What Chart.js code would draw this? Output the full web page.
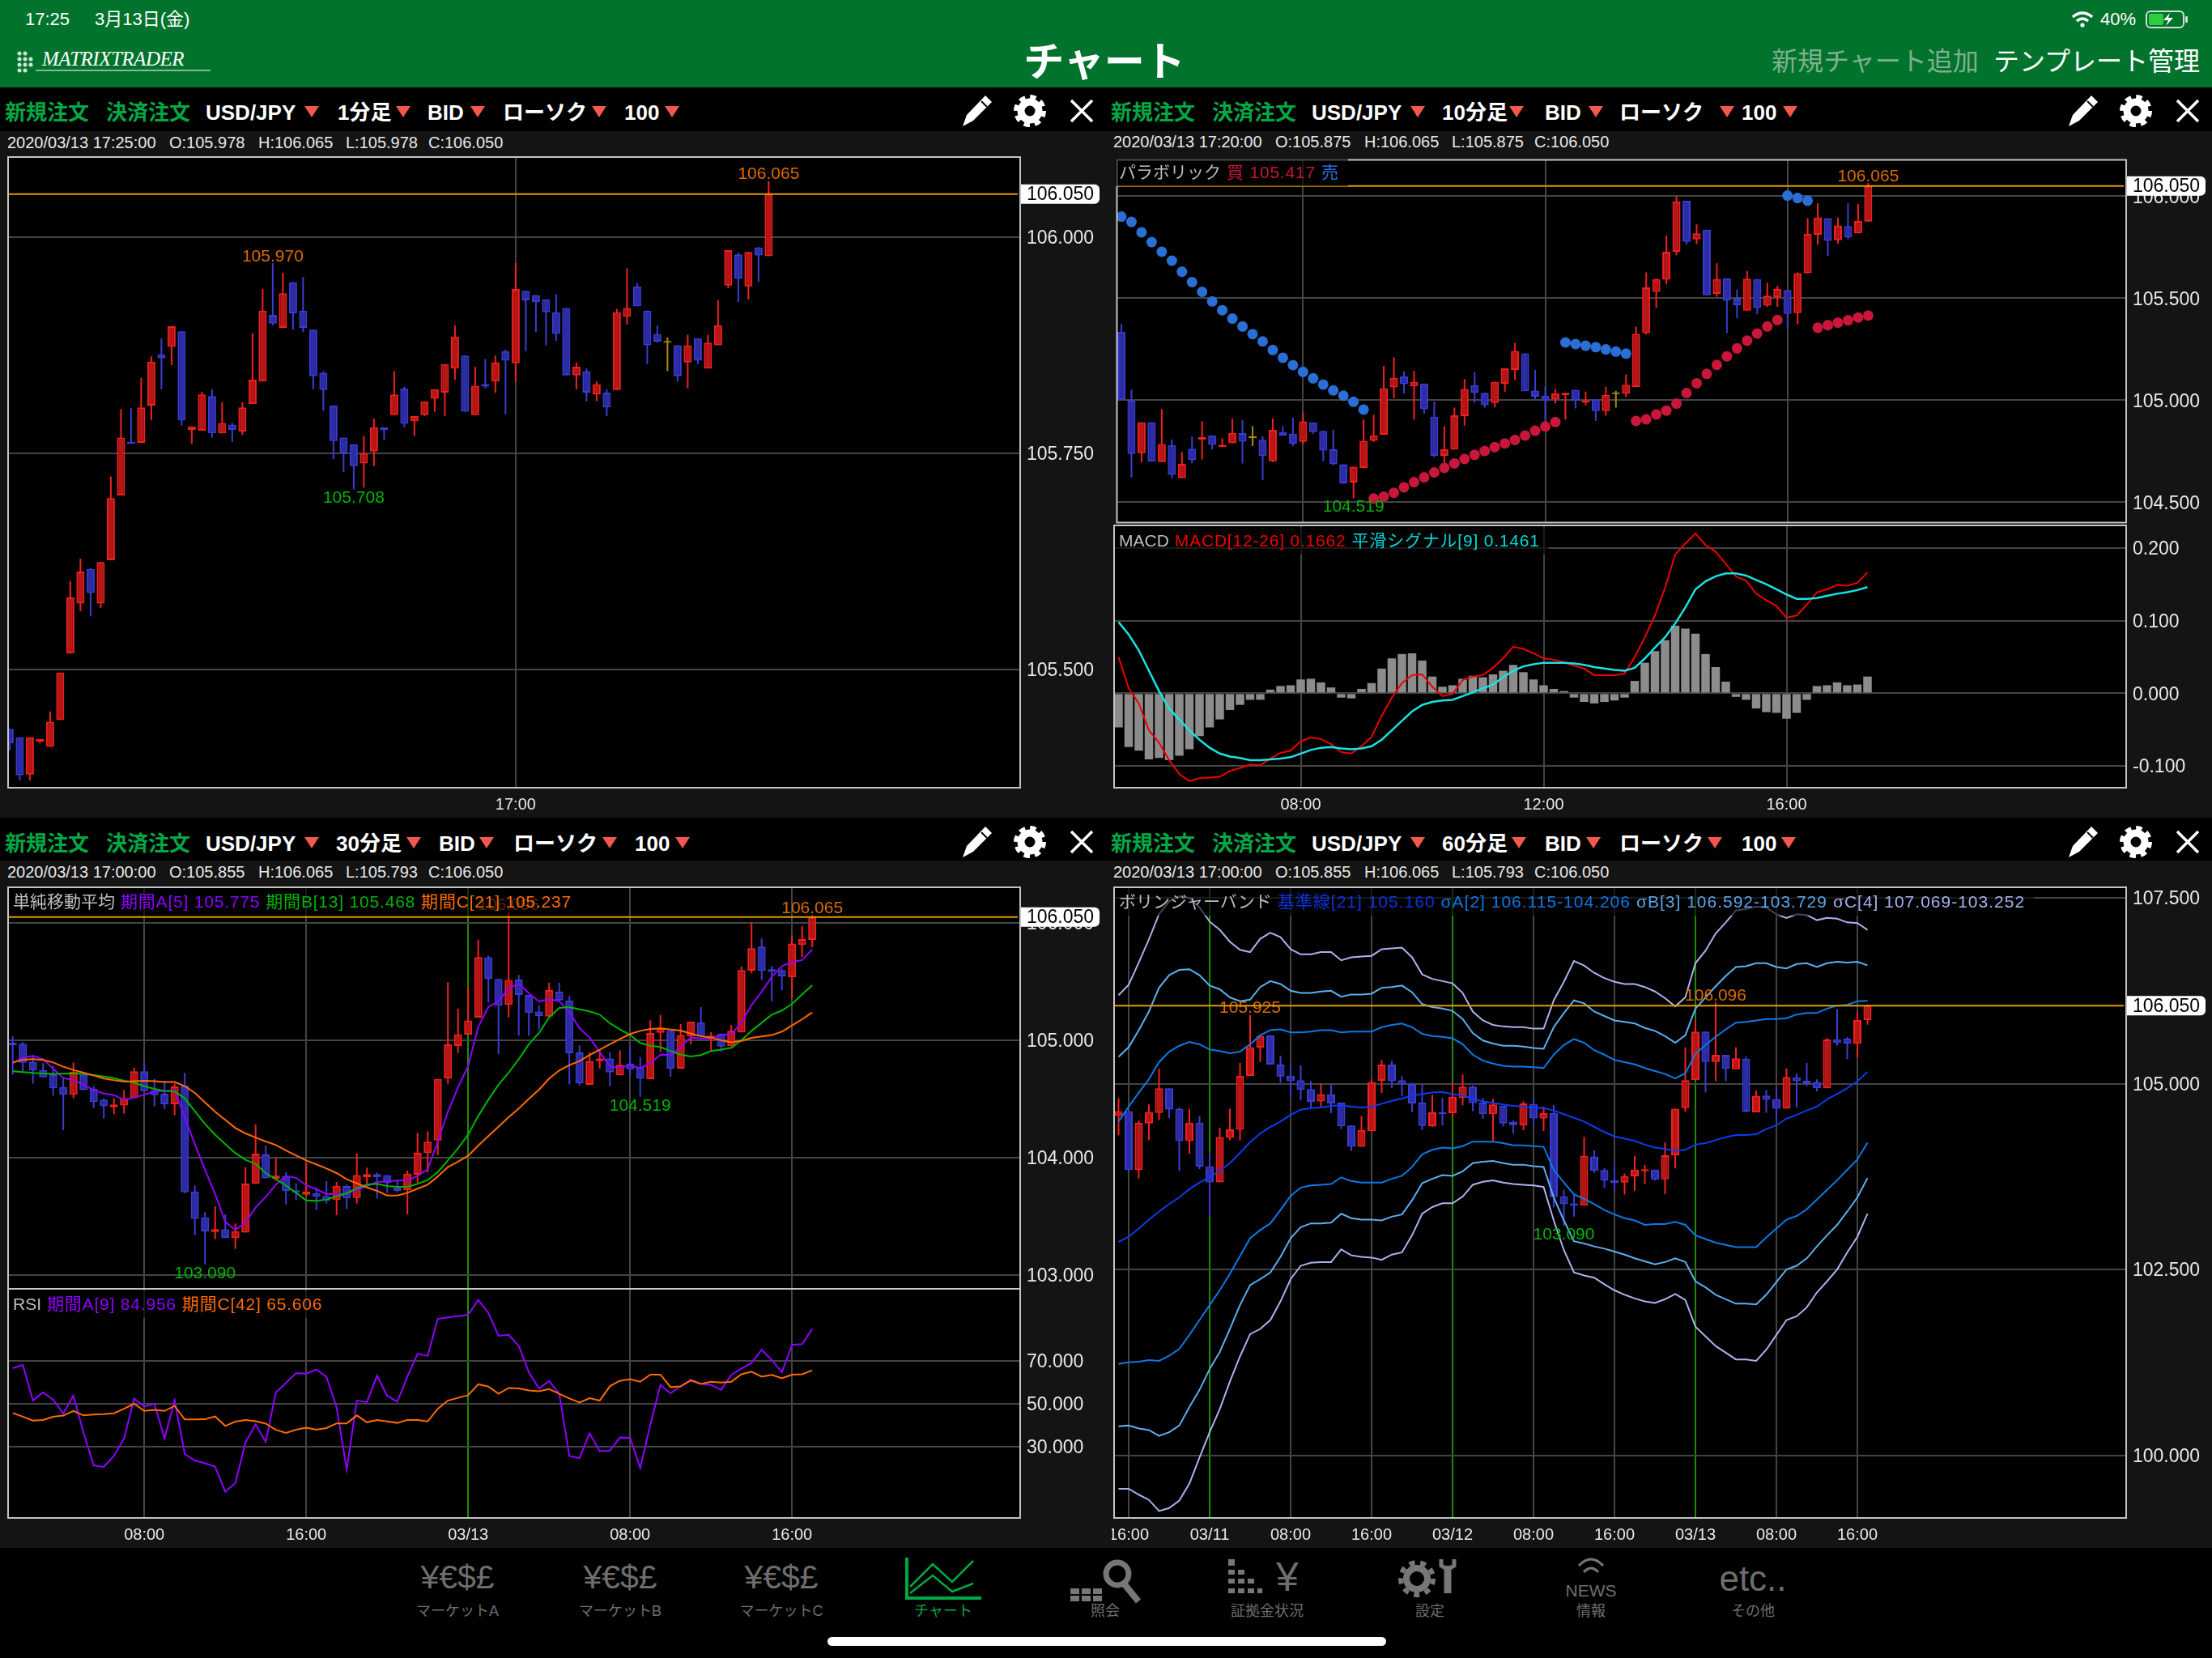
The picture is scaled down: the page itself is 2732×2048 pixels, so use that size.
<!DOCTYPE html>
<html lang="ja">
<head>
<meta charset="utf-8">
<title>チャート</title>
<script src="https://cdn.jsdelivr.net/npm/chart.js@4"></script>
<style>
  html, body { margin: 0; padding: 0; background: #141414; }
  body { position: relative; width: 2732px; height: 2048px; overflow: hidden;
         font-family: 'Liberation Sans', 'Noto Sans CJK JP', sans-serif; color: #fff; }
  .band { position: absolute; left: 0; width: 2732px; }
  canvas { position: absolute; }
  .t { position: absolute; white-space: nowrap; transform: translateY(-50%); line-height: 1; }
  .c { transform: translate(-50%, -50%); }
  .tri { position: absolute; width: 0; height: 0; border-left: 9px solid transparent;
         border-right: 9px solid transparent; border-top: 14px solid #f2584e; transform: translateX(-50%); }
  .legend { position: absolute; height: 34px; line-height: 34px; white-space: nowrap; font-size: 21px;
            background: rgba(0, 0, 0, .62); padding: 0 4px 0 5px; z-index: 3; }
  .legend span { margin-right: 7px; }
  .legend span + span { letter-spacing: .8px; }
  .legend.wide span + span { letter-spacing: 1px; }
  svg.ic { position: absolute; overflow: visible; }
</style>
</head>
<body>
<div class="band" style="top:0;height:108px;background:#01732d"></div>
<div class="band" style="top:108px;height:54px;background:#000"></div>
<div class="band" style="top:1010px;height:53px;background:#000"></div>
<div class="band" style="top:1912px;height:136px;background:#000"></div>
<div style="position:absolute;left:1022px;top:2022px;width:690px;height:11px;border-radius:6px;background:#fff"></div>

<script>
// 1 minute candles
const m1Open  = [105.431,105.421,105.378,105.416,105.410,105.441,105.518,105.576,105.616,105.576,105.626,105.701,105.763,105.762,105.805,105.864,105.873,105.891,105.777,105.776,105.816,105.773,105.783,105.775,105.807,105.833,105.910,105.895,105.948,105.915,105.893,105.843,105.805,105.768,105.760,105.738,105.752,105.780,105.794,105.825,105.787,105.794,105.813,105.820,105.848,105.863,105.794,105.830,105.833,105.868,105.854,105.938,105.933,105.928,105.913,105.918,105.840,105.845,105.818,105.820,105.823,105.908,105.943,105.915,105.888,105.878,105.875,105.855,105.883,105.848,105.875,105.944,105.980,105.943,105.988,105.978];
const m1High  = [105.431,105.421,105.421,105.419,105.451,105.496,105.602,105.628,105.617,105.624,105.723,105.801,105.802,105.837,105.862,105.883,105.897,105.891,105.781,105.821,105.824,105.809,105.785,105.809,105.889,105.940,105.970,105.959,105.948,105.954,105.893,105.845,105.805,105.768,105.760,105.770,105.790,105.780,105.845,105.827,105.793,105.810,105.824,105.853,105.898,105.863,105.850,105.859,105.863,105.870,105.970,105.938,105.933,105.928,105.934,105.918,105.855,105.848,105.833,105.824,105.917,105.964,105.947,105.915,105.898,105.884,105.875,105.887,105.883,105.887,105.927,105.985,105.982,105.983,105.989,106.065];
const m1Low   = [105.406,105.371,105.371,105.414,105.410,105.441,105.518,105.567,105.561,105.571,105.626,105.701,105.761,105.762,105.788,105.824,105.852,105.782,105.761,105.776,105.768,105.773,105.763,105.771,105.807,105.833,105.898,105.895,105.893,105.890,105.824,105.799,105.743,105.728,105.708,105.710,105.735,105.765,105.794,105.780,105.770,105.793,105.798,105.793,105.835,105.798,105.794,105.825,105.820,105.795,105.833,105.868,105.890,105.875,105.880,105.840,105.824,105.810,105.810,105.793,105.823,105.899,105.920,105.853,105.878,105.845,105.833,105.825,105.853,105.848,105.875,105.941,105.925,105.928,105.948,105.978];
const m1Close = [105.414,105.377,105.421,105.419,105.439,105.496,105.583,105.613,105.588,105.624,105.698,105.768,105.761,105.803,105.856,105.860,105.897,105.788,105.781,105.818,105.773,105.785,105.777,105.803,105.835,105.915,105.900,105.935,105.912,105.895,105.839,105.823,105.764,105.750,105.735,105.750,105.780,105.777,105.818,105.784,105.793,105.810,105.824,105.853,105.885,105.798,105.828,105.827,105.855,105.857,105.940,105.927,105.925,105.913,105.888,105.840,105.850,105.820,105.830,105.803,105.913,105.918,105.920,105.875,105.879,105.878,105.839,105.875,105.857,105.878,105.898,105.985,105.952,105.983,105.979,106.050];
const m1Ticks = [106.000,105.750,105.500];
const m1TimeIdx = [50];
const m1TimeLabels = ['17:00'];

// 10 minute candles
const m10Open  = [105.336,104.999,104.740,104.892,104.697,104.780,104.618,104.762,104.807,104.828,104.771,104.789,104.839,104.815,104.806,104.701,104.844,104.836,104.796,104.891,104.849,104.759,104.686,104.596,104.668,104.801,104.831,105.063,105.116,105.068,105.082,104.919,104.727,104.758,104.922,105.074,105.036,104.986,105.081,105.148,105.229,105.047,105.021,105.003,105.025,105.051,104.988,105.004,104.947,105.030,105.031,105.065,105.329,105.531,105.591,105.728,105.978,105.788,105.836,105.521,105.598,105.497,105.439,105.594,105.464,105.504,105.540,105.427,105.622,105.811,105.892,105.784,105.854,105.818,105.875];
const m10High  = [105.374,105.052,104.892,104.892,104.957,104.807,104.745,104.822,104.897,104.828,104.814,104.910,104.902,104.872,104.824,104.911,104.872,104.914,104.941,104.891,104.849,104.853,104.686,104.674,104.906,104.928,105.168,105.211,105.142,105.143,105.082,104.993,104.872,104.964,105.103,105.137,105.036,105.090,105.156,105.281,105.229,105.148,105.068,105.056,105.036,105.051,105.042,105.004,105.066,105.046,105.126,105.361,105.626,105.598,105.807,106.001,105.978,105.862,105.836,105.671,105.598,105.542,105.633,105.594,105.576,105.560,105.540,105.626,105.892,105.966,105.892,105.895,105.966,105.962,106.065];
const m10Low   = [105.003,104.621,104.697,104.699,104.697,104.615,104.618,104.691,104.710,104.759,104.771,104.789,104.690,104.775,104.609,104.697,104.827,104.775,104.785,104.836,104.701,104.681,104.590,104.519,104.668,104.796,104.831,105.009,105.033,104.905,104.934,104.720,104.684,104.758,104.875,104.988,104.964,104.965,105.042,105.100,105.044,105.003,104.895,104.983,104.905,104.960,104.975,104.898,104.924,104.964,105.014,105.065,105.322,105.454,105.568,105.711,105.764,105.766,105.514,105.507,105.329,105.402,105.439,105.421,105.458,105.458,105.357,105.371,105.622,105.762,105.707,105.768,105.790,105.818,105.875];
const m10Close = [105.003,104.736,104.892,104.699,104.785,104.634,104.688,104.706,104.819,104.781,104.781,104.840,104.797,104.815,104.725,104.854,104.827,104.786,104.896,104.844,104.753,104.686,104.592,104.674,104.801,104.828,105.059,105.109,105.079,105.090,104.956,104.727,104.759,104.926,105.055,105.036,104.975,105.090,105.156,105.241,105.044,105.017,104.997,105.034,105.036,104.997,104.999,104.947,105.026,105.030,105.076,105.326,105.553,105.594,105.728,105.975,105.776,105.818,105.514,105.594,105.487,105.466,105.596,105.452,105.512,105.546,105.423,105.622,105.816,105.895,105.781,105.857,105.798,105.878,106.050];
const sarSell = [105.900,105.874,105.823,105.775,105.728,105.684,105.630,105.579,105.531,105.484,105.441,105.400,105.361,105.324,105.288,105.246,105.208,105.172,105.139,105.107,105.077,105.048,105.022,104.992,104.954,null,null,null,null,null,null,null,null,null,null,null,null,null,null,null,null,null,null,null,105.283,105.275,105.267,105.260,105.249,105.238,105.228,null,null,null,null,null,null,null,null,null,null,null,null,null,null,null,106.003,105.991,105.978,null,null,null,null,null,null];
const sarBuy  = [null,null,null,null,null,null,null,null,null,null,null,null,null,null,null,null,null,null,null,null,null,null,null,null,null,104.518,104.527,104.546,104.573,104.598,104.622,104.646,104.668,104.690,104.712,104.732,104.751,104.770,104.788,104.805,104.827,104.850,104.871,104.893,null,null,null,null,null,null,null,104.898,104.906,104.930,104.949,104.983,105.035,105.083,105.129,105.173,105.215,105.254,105.292,105.327,105.361,105.393,null,null,null,105.355,105.368,105.380,105.392,105.405,105.415];
const macdLine = [0.050,0.007,-0.014,-0.051,-0.068,-0.092,-0.111,-0.121,-0.117,-0.116,-0.115,-0.107,-0.103,-0.098,-0.099,-0.090,-0.082,-0.079,-0.066,-0.061,-0.063,-0.070,-0.081,-0.083,-0.073,-0.060,-0.031,-0.006,0.014,0.025,0.026,0.009,-0.004,-0.001,0.018,0.023,0.025,0.035,0.048,0.064,0.061,0.055,0.048,0.046,0.043,0.038,0.034,0.025,0.025,0.025,0.027,0.050,0.077,0.107,0.145,0.191,0.206,0.220,0.204,0.195,0.178,0.161,0.155,0.137,0.128,0.120,0.104,0.107,0.122,0.139,0.143,0.149,0.148,0.152,0.1662];
const macdSignal = [0.098,0.081,0.059,0.031,0.003,-0.021,-0.036,-0.051,-0.064,-0.075,-0.083,-0.087,-0.089,-0.092,-0.092,-0.091,-0.090,-0.088,-0.083,-0.078,-0.075,-0.074,-0.076,-0.077,-0.076,-0.073,-0.064,-0.051,-0.038,-0.025,-0.016,-0.012,-0.010,-0.009,-0.004,0.001,0.007,0.012,0.022,0.031,0.037,0.040,0.042,0.042,0.042,0.041,0.039,0.036,0.034,0.032,0.031,0.035,0.048,0.063,0.077,0.096,0.118,0.143,0.154,0.161,0.165,0.165,0.162,0.156,0.150,0.143,0.136,0.130,0.130,0.131,0.134,0.137,0.139,0.142,0.1461];
const macdHist = [-0.047,-0.074,-0.079,-0.091,-0.089,-0.092,-0.086,-0.077,-0.059,-0.047,-0.036,-0.023,-0.016,-0.009,-0.009,0.005,0.010,0.011,0.019,0.020,0.015,0.008,-0.006,-0.007,0.006,0.014,0.034,0.048,0.054,0.055,0.045,0.023,0.009,0.011,0.020,0.024,0.022,0.026,0.031,0.039,0.029,0.019,0.011,0.006,0.003,-0.006,-0.012,-0.014,-0.012,-0.010,-0.006,0.017,0.042,0.058,0.073,0.093,0.089,0.082,0.054,0.036,0.016,-0.005,-0.009,-0.021,-0.026,-0.027,-0.035,-0.027,-0.009,0.010,0.011,0.015,0.011,0.012,0.023];
const m10Ticks = [106.000,105.500,105.000,104.500];
const macdTicks = [0.200,0.100,0.000,-0.100];
const m10TimeIdx = [18,42,66];
const m10TimeLabels = ['08:00','12:00','16:00'];

// 30 minute candles
const m30Open  = [104.979,104.970,104.816,104.747,104.710,104.602,104.536,104.708,104.586,104.494,104.430,104.444,104.506,104.736,104.575,104.545,104.455,104.614,103.713,103.492,103.368,103.389,103.315,103.363,103.777,104.028,103.821,103.844,103.722,103.685,103.699,103.674,103.639,103.759,103.657,103.834,103.860,103.851,103.747,103.722,103.855,104.039,104.147,104.674,104.952,105.048,105.193,105.706,105.522,105.301,105.517,105.386,105.244,105.202,105.416,105.340,104.897,104.621,104.823,104.844,104.701,104.802,104.770,104.669,105.064,105.080,104.759,105.032,105.154,105.016,105.057,104.949,105.067,105.593,105.798,105.605,105.598,105.538,105.811,105.855];
const m30High  = [105.034,104.984,104.874,104.805,104.782,104.678,104.811,104.708,104.609,104.506,104.506,104.575,104.766,104.805,104.671,104.655,104.632,104.722,103.763,103.536,103.586,103.517,103.439,103.920,104.283,104.103,103.993,103.876,103.782,103.954,103.747,103.802,103.793,103.770,104.037,103.915,103.874,103.851,103.816,103.890,104.211,104.225,104.671,105.494,105.269,105.453,105.857,105.722,105.522,106.096,105.556,105.386,105.297,105.490,105.490,105.375,104.956,104.897,104.920,104.901,104.915,104.943,104.855,105.170,105.214,105.080,105.138,105.159,105.283,105.069,105.057,105.131,105.628,106.005,105.867,105.632,105.609,105.894,105.972,106.065];
const m30Low   = [104.706,104.736,104.630,104.685,104.529,104.234,104.506,104.575,104.423,104.333,104.370,104.375,104.506,104.568,104.437,104.414,104.361,103.697,103.340,103.090,103.306,103.315,103.223,103.363,103.777,103.825,103.805,103.602,103.637,103.667,103.554,103.609,103.510,103.563,103.609,103.747,103.651,103.701,103.706,103.517,103.782,103.874,104.023,104.630,104.892,105.048,105.193,105.322,104.883,105.195,105.041,105.037,105.092,105.202,105.340,104.625,104.616,104.621,104.759,104.609,104.701,104.701,104.519,104.669,104.903,104.690,104.759,104.966,105.030,104.915,104.901,104.949,105.067,105.570,105.513,105.333,105.425,105.356,105.710,105.793];
const m30Close = [104.959,104.809,104.743,104.685,104.591,104.536,104.731,104.575,104.474,104.439,104.453,104.506,104.736,104.568,104.533,104.455,104.607,103.706,103.480,103.372,103.391,103.315,103.375,103.779,104.034,103.825,103.846,103.715,103.701,103.710,103.667,103.632,103.761,103.653,103.851,103.860,103.834,103.782,103.717,103.864,104.041,104.136,104.671,104.966,105.051,105.168,105.708,105.522,105.294,105.513,105.386,105.232,105.207,105.428,105.340,104.890,104.632,104.823,104.844,104.726,104.791,104.754,104.674,105.062,105.103,104.756,105.044,105.159,105.030,105.039,104.947,105.080,105.598,105.784,105.591,105.582,105.543,105.823,105.862,106.050];
const smaA = [104.805,104.851,104.867,104.839,104.759,104.678,104.660,104.621,104.575,104.547,104.533,104.494,104.513,104.536,104.563,104.568,104.575,104.345,104.115,103.897,103.690,103.453,103.384,103.448,103.575,103.667,103.770,103.844,103.828,103.766,103.731,103.690,103.690,103.694,103.724,103.759,103.793,103.798,103.805,103.809,103.844,103.901,104.138,104.391,104.598,104.782,105.115,105.283,105.333,105.441,105.483,105.402,105.329,105.352,105.333,105.241,105.103,105.023,104.897,104.777,104.766,104.786,104.763,104.805,104.878,104.874,104.943,105.023,105.016,105.016,105.046,105.051,105.149,105.299,105.414,105.540,105.632,105.667,105.683,105.775];
const smaB = [104.736,104.729,104.722,104.717,104.713,104.715,104.717,104.713,104.703,104.692,104.678,104.655,104.639,104.609,104.586,104.568,104.563,104.506,104.395,104.287,104.195,104.115,104.039,103.982,103.947,103.869,103.816,103.763,103.701,103.637,103.632,103.644,103.671,103.697,103.740,103.770,103.777,103.759,103.752,103.752,103.777,103.809,103.878,103.977,104.080,104.195,104.356,104.494,104.621,104.724,104.839,104.966,105.062,105.195,105.276,105.283,105.264,105.246,105.218,105.145,105.092,105.046,104.977,104.954,104.943,104.908,104.878,104.862,104.874,104.908,104.920,104.936,105.000,105.080,105.149,105.218,105.253,105.310,105.391,105.468];
const smaC = [104.811,104.834,104.839,104.832,104.811,104.775,104.747,104.724,104.701,104.674,104.660,104.648,104.651,104.655,104.651,104.644,104.644,104.609,104.552,104.471,104.391,104.322,104.253,104.207,104.172,104.138,104.108,104.062,104.018,103.977,103.943,103.908,103.869,103.816,103.782,103.747,103.717,103.678,103.678,103.701,103.736,103.770,103.839,103.920,103.966,104.016,104.103,104.184,104.264,104.345,104.418,104.501,104.579,104.674,104.743,104.789,104.823,104.874,104.920,104.966,105.011,105.053,105.080,105.097,105.101,105.092,105.083,105.057,105.034,105.023,105.000,104.982,104.995,105.021,105.032,105.044,105.074,105.126,105.179,105.237];
const rsiA = [66.6,68.1,51.5,55.3,51.9,45.5,53.8,36.4,21.3,20.6,25.7,33.9,52.5,48.7,50.0,33.9,51.5,26.6,23.6,22.3,20.7,9.0,13.1,32.0,40.4,32.3,55.3,59.7,64.3,64.1,66.0,62.6,48.4,19.4,51.5,50.8,63.1,53.8,50.9,62.8,73.3,72.3,89.6,90.3,90.9,91.5,98.4,92.4,81.7,82.2,77.0,64.7,57.2,60.6,54.7,25.7,24.7,36.2,27.9,28.1,34.3,34.2,20.1,40.2,58.8,54.9,58.2,61.3,59.3,58.8,56.5,63.5,66.4,69.1,75.2,70.4,64.7,77.5,77.8,84.956];
const rsiC = [45.7,44.0,42.2,42.5,44.0,44.5,46.7,44.6,45.0,45.2,45.6,47.7,50.0,46.7,47.2,46.7,49.0,42.7,42.7,42.8,44.1,39.7,41.7,42.5,41.9,40.8,37.9,36.4,37.9,38.9,37.9,38.7,40.9,40.9,44.6,41.4,42.5,41.8,41.1,42.5,42.5,41.8,47.7,51.5,52.8,54.0,59.1,58.1,54.7,57.4,57.2,56.2,55.9,56.9,54.7,52.5,50.6,52.6,51.5,58.2,60.8,61.4,60.3,63.6,63.6,57.8,58.1,60.9,59.3,60.3,59.9,60.3,63.8,65.0,62.7,63.5,61.9,63.6,63.8,65.606];
const m30Ticks = [106.000,105.000,104.000,103.000];
const rsiTicks = [70,50,30];
const m30TimeIdx = [13,29,45,61,77];
const m30TimeLabels = ['08:00','16:00','03/13','08:00','16:00'];
const m30DateIdx = [45];

// 60 minute candles
const h1Open  = [104.567,104.630,103.838,104.465,104.607,104.937,104.664,104.226,104.476,103.889,103.673,104.271,104.380,105.103,105.484,105.650,105.257,105.108,105.046,104.926,104.761,104.858,104.744,104.437,104.152,104.362,105.040,105.257,105.046,104.995,104.744,104.425,104.613,104.602,104.807,104.960,104.744,104.590,104.704,104.482,104.437,104.727,104.533,104.607,103.485,103.389,103.360,104.021,103.838,103.702,103.668,103.753,103.821,103.844,103.713,104.038,104.670,105.046,105.701,105.291,105.388,105.194,105.336,104.613,104.841,104.795,104.664,105.086,105.040,105.023,104.937,105.598,105.604,105.536,105.855];
const h1High  = [104.806,104.630,104.505,104.721,105.205,104.937,104.681,104.659,104.567,104.066,104.408,104.664,105.279,105.925,105.644,105.650,105.376,105.234,105.245,105.034,105.006,104.995,104.744,104.437,104.567,105.063,105.319,105.308,105.103,105.012,104.989,104.852,104.807,105.023,105.126,104.977,104.807,104.795,104.704,104.505,104.761,104.795,104.693,104.716,103.571,103.497,104.283,104.101,103.867,103.941,103.793,104.032,103.907,103.844,104.209,104.664,105.490,105.860,105.701,106.096,105.388,105.490,105.365,104.909,104.915,104.932,105.205,105.137,105.279,105.057,105.615,106.003,105.627,105.968,106.065];
const h1Low   = [104.305,103.827,103.725,104.237,104.511,104.539,103.827,104.055,103.850,103.212,103.673,104.237,104.237,105.103,105.291,105.257,105.012,104.807,104.778,104.670,104.693,104.602,104.391,104.095,104.152,104.362,104.875,104.937,104.835,104.619,104.374,104.419,104.437,104.550,104.710,104.630,104.528,104.232,104.425,104.328,104.374,104.431,104.362,103.337,103.090,103.212,103.360,103.799,103.599,103.554,103.508,103.559,103.651,103.696,103.514,103.861,104.624,105.046,104.881,105.034,105.034,105.194,104.613,104.613,104.607,104.494,104.664,104.681,104.966,104.898,104.937,105.513,105.331,105.353,105.793];
const h1Close = [104.630,103.838,104.476,104.619,104.937,104.653,104.226,104.476,103.884,103.673,104.283,104.385,105.103,105.490,105.644,105.257,105.097,105.034,104.915,104.755,104.858,104.733,104.425,104.152,104.374,105.023,105.257,105.034,104.989,104.733,104.431,104.613,104.590,104.824,104.960,104.738,104.590,104.721,104.465,104.442,104.733,104.533,104.602,103.474,103.377,103.360,104.032,103.827,103.696,103.662,103.759,103.844,103.850,103.708,104.038,104.664,105.046,105.701,105.291,105.388,105.200,105.342,104.624,104.835,104.784,104.664,105.091,105.034,105.000,104.937,105.593,105.547,105.541,105.855,106.050];
const bbBase = [102.87,102.94,103.05,103.17,103.28,103.38,103.47,103.58,103.67,103.74,103.83,103.93,104.07,104.21,104.33,104.42,104.49,104.58,104.65,104.67,104.68,104.70,104.71,104.69,104.68,104.69,104.73,104.77,104.80,104.84,104.86,104.88,104.89,104.86,104.84,104.80,104.76,104.74,104.72,104.70,104.69,104.68,104.67,104.64,104.59,104.54,104.49,104.42,104.35,104.29,104.26,104.23,104.18,104.14,104.12,104.10,104.11,104.18,104.20,104.24,104.28,104.31,104.31,104.32,104.39,104.44,104.53,104.58,104.64,104.69,104.79,104.86,104.94,105.03,105.16];
const bbAUp = [104.49,104.69,104.88,105.06,105.29,105.43,105.51,105.56,105.53,105.46,105.44,105.41,105.43,105.53,105.65,105.72,105.73,105.69,105.69,105.70,105.72,105.72,105.69,105.70,105.70,105.70,105.76,105.79,105.81,105.76,105.67,105.64,105.63,105.61,105.53,105.39,105.31,105.27,105.24,105.23,105.23,105.22,105.21,105.39,105.52,105.60,105.55,105.45,105.39,105.32,105.29,105.26,105.21,105.17,105.13,105.07,105.14,105.40,105.52,105.63,105.73,105.82,105.83,105.85,105.87,105.87,105.88,105.93,105.95,105.95,106.01,106.05,106.06,106.11,106.115];
const bbALow = [101.23,101.25,101.26,101.28,101.27,101.34,101.43,101.62,101.82,102.02,102.22,102.44,102.68,102.92,103.03,103.12,103.30,103.49,103.60,103.63,103.64,103.65,103.74,103.69,103.67,103.67,103.67,103.72,103.76,103.88,104.05,104.11,104.14,104.13,104.16,104.22,104.22,104.22,104.20,104.17,104.17,104.16,104.15,103.84,103.67,103.51,103.45,103.38,103.30,103.24,103.19,103.16,103.10,103.11,103.11,103.14,103.10,102.96,102.91,102.86,102.83,102.80,102.80,102.80,102.93,103.05,103.17,103.22,103.31,103.44,103.57,103.70,103.84,103.98,104.206];
const bbBUp = [105.36,105.49,105.72,105.97,106.29,106.46,106.53,106.54,106.46,106.32,106.27,106.16,106.11,106.13,106.30,106.38,106.34,106.25,106.22,106.22,106.24,106.25,106.17,106.20,106.20,106.21,106.29,106.30,106.32,106.23,106.07,106.03,106.01,105.98,105.87,105.68,105.58,105.54,105.51,105.51,105.50,105.48,105.47,105.76,105.95,106.12,106.08,105.97,105.91,105.85,105.83,105.81,105.75,105.71,105.64,105.55,105.65,106.01,106.16,106.31,106.45,106.57,106.58,106.62,106.62,106.57,106.55,106.61,106.62,106.57,106.62,106.64,106.63,106.64,106.592];
const bbBLow = [100.39,100.40,100.36,100.34,100.26,100.31,100.40,100.65,100.88,101.16,101.39,101.70,102.02,102.29,102.37,102.46,102.67,102.92,103.07,103.12,103.12,103.13,103.25,103.19,103.17,103.17,103.16,103.21,103.24,103.43,103.66,103.72,103.77,103.76,103.82,103.93,103.95,103.96,103.93,103.91,103.91,103.89,103.88,103.47,103.16,102.88,102.85,102.81,102.78,102.74,102.70,102.65,102.61,102.57,102.60,102.65,102.60,102.34,102.26,102.16,102.10,102.04,102.04,102.03,102.16,102.33,102.50,102.55,102.65,102.81,102.96,103.10,103.28,103.47,103.729];
const bbCUp = [106.19,106.33,106.63,106.94,107.28,107.45,107.52,107.50,107.37,107.18,107.07,106.91,106.80,106.77,106.95,107.03,106.97,106.81,106.74,106.74,106.77,106.77,106.66,106.70,106.71,106.72,106.81,106.82,106.83,106.70,106.47,106.41,106.38,106.35,106.22,105.97,105.85,105.79,105.77,105.76,105.76,105.74,105.74,106.12,106.37,106.65,106.59,106.49,106.42,106.37,106.34,106.34,106.30,106.24,106.15,106.04,106.16,106.62,106.79,107.02,107.17,107.33,107.35,107.38,107.37,107.28,107.23,107.28,107.27,107.20,107.23,107.22,107.17,107.16,107.069];
const bbCLow = [99.55,99.55,99.47,99.40,99.25,99.29,99.39,99.62,99.97,100.31,100.62,100.99,101.33,101.63,101.70,101.82,102.07,102.37,102.55,102.59,102.60,102.60,102.77,102.69,102.67,102.66,102.63,102.70,102.73,102.96,103.25,103.34,103.39,103.39,103.48,103.64,103.68,103.70,103.67,103.65,103.64,103.63,103.61,103.16,102.76,102.46,102.42,102.39,102.30,102.22,102.16,102.11,102.07,102.05,102.10,102.17,102.09,101.73,101.60,101.47,101.38,101.29,101.29,101.27,101.42,101.62,101.82,101.87,101.99,102.19,102.34,102.50,102.73,102.94,103.252];
const h1Ticks = [107.500,105.000,102.500,100.000];
const h1TimeIdx = [1,9,17,25,33,41,49,57,65,73];
const h1TimeLabels = ['16:00','03/11','08:00','16:00','03/12','08:00','16:00','03/13','08:00','16:00'];
const h1DateIdx = [9,33,57];

const lastPrice = 106.050;

const fontFamily = "'Liberation Sans', 'Noto Sans CJK JP', sans-serif";
Chart.defaults.font.family = fontFamily;
Chart.defaults.color = '#e8e8e8';

// ----- small dom helpers -----
function text(str, x, y, size, color, extra) {
  const el = document.createElement('div');
  el.className = 't';
  el.textContent = str;
  el.style.cssText = `left:${x}px;top:${y}px;font-size:${size}px;color:${color};${extra || ''}`;
  document.body.appendChild(el);
  return el;
}
function centred(str, x, y, size, color, extra) {
  text(str, x, y, size, color, extra).classList.add('c');
}
function svg(x, y, w, h, body) {
  const wrap = document.createElement('div');
  wrap.innerHTML = `<svg class="ic" style="left:${x}px;top:${y}px" width="${w}" height="${h}" viewBox="0 0 ${w} ${h}">${body}</svg>`;
  document.body.appendChild(wrap.firstChild);
}
function legend(x, y, parts, wide) {
  const el = document.createElement('div');
  el.className = wide ? 'legend wide' : 'legend';
  el.style.left = x + 'px';
  el.style.top = y + 'px';
  parts.forEach(p => {
    const s = document.createElement('span');
    s.textContent = p[0];
    s.style.color = p[1];
    el.appendChild(s);
  });
  document.body.appendChild(el);
}

// ----- header -----
text('17:25', 31, 24, 22, '#fff');
text('3月13日(金)', 117, 24, 22, '#fff');
text('MATRIXTRADER', 52, 72, 25, '#fff', "font-family:'Liberation Serif';font-style:italic;letter-spacing:-.5px");
svg(20, 62, 26, 28, '<g fill="#cfe5d5"><circle cx="4" cy="4" r="2.5"/><circle cx="11" cy="4" r="2.5"/><circle cx="4" cy="11" r="2.5"/><circle cx="11" cy="11" r="2.5"/><circle cx="18" cy="11" r="2.5"/><circle cx="4" cy="18" r="2.5"/><circle cx="11" cy="18" r="2.5"/><circle cx="18" cy="18" r="2.5"/><circle cx="4" cy="25" r="2.5"/><circle cx="11" cy="25" r="2.5"/></g>');
svg(44, 86, 216, 3, '<rect width="216" height="2" fill="#bcd6c4" opacity=".7"/>');
centred('チャート', 1364, 77, 50, '#fff', 'font-weight:700');
text('新規チャート追加', 2188, 76, 32, '#7fb08f');
text('テンプレート管理', 2462, 76, 32, '#fff');
svg(2558, 14, 28, 20, '<g fill="none" stroke="#fff" stroke-width="3.5"><path d="M2 7 Q14 -3 26 7"/><path d="M7 12 Q14 6 21 12"/></g><circle cx="14" cy="17" r="2.6" fill="#fff"/>');
text('40%', 2594, 24, 22, '#fff');
svg(2650, 13, 54, 22, '<rect x="1" y="1" width="46" height="20" rx="5" fill="none" stroke="#cfe0d3" stroke-width="2"/><rect x="4" y="4" width="18" height="14" rx="2" fill="#2ecc40"/><rect x="49" y="7" width="3" height="8" rx="1" fill="#cfe0d3"/><path d="M30 3 L22 12 L28 12 L25 19 L34 9 L28 9 Z" fill="#fff"/>');

// ----- per pane toolbars and info rows -----
function toolbar(xOff, y, spanName, xs) {
  const ty = y + 2;
  text('新規注文', xOff + 6, ty, 26, '#00a845', 'font-weight:700');
  text('決済注文', xOff + 131, ty, 26, '#00a845', 'font-weight:700');
  text('USD/JPY', xOff + 254, ty, 26, '#fff', 'font-weight:700');
  triangle(xOff + 385, y);
  text(spanName, xOff + xs[0], ty, 26, '#fff', 'font-weight:700');
  triangle(xOff + xs[1], y);
  text('BID', xOff + xs[2], ty, 26, '#fff', 'font-weight:700');
  triangle(xOff + xs[3], y);
  text('ローソク', xOff + xs[4], ty, 26, '#fff', 'font-weight:700');
  triangle(xOff + xs[5], y);
  text('100', xOff + xs[6], ty, 26, '#fff', 'font-weight:700');
  triangle(xOff + xs[7], y);
  // pencil, gear and close icons
  svg(xOff + 1188, y - 20, 38, 40, '<path d="M29 1 L37 9 L14 32 L1 39 L6 25 Z" fill="#fff"/><path d="M24 8 L31 15" stroke="#000" stroke-width="2"/>');
  svg(xOff + 1252, y - 20, 40, 40, '<circle cx="20" cy="20" r="11" fill="none" stroke="#fff" stroke-width="9"/><circle cx="20" cy="20" r="17" fill="none" stroke="#fff" stroke-width="6" stroke-dasharray="7.3 6"/>');
  svg(xOff + 1321, y - 15, 30, 30, '<path d="M2 2 L28 28 M28 2 L2 28" stroke="#fff" stroke-width="3.5"/>');
}
function triangle(x, y) {
  const el = document.createElement('div');
  el.className = 'tri';
  el.style.left = x + 'px';
  el.style.top = (y - 6) + 'px';
  document.body.appendChild(el);
}
function infoRow(xOff, y, time, o, h, l, c) {
  text(time, xOff + 9, y, 20, '#e8e8e8');
  text('O:' + o, xOff + 209, y, 20, '#e8e8e8');
  text('H:' + h, xOff + 319, y, 20, '#e8e8e8');
  text('L:' + l, xOff + 427, y, 20, '#e8e8e8');
  text('C:' + c, xOff + 529, y, 20, '#e8e8e8');
}
toolbar(0, 137, '1分足', [417, 498, 528, 590, 621, 740, 771, 830]);
toolbar(1366, 137, '10分足', [415, 507, 542, 605, 634, 767, 785, 845]);
toolbar(0, 1040, '30分足', [415, 511, 542, 601, 634, 753, 784, 843]);
toolbar(1366, 1040, '60分足', [415, 510, 542, 602, 634, 752, 785, 843]);
infoRow(0, 176, '2020/03/13 17:25:00', '105.978', '106.065', '105.978', '106.050');
infoRow(1366, 175, '2020/03/13 17:20:00', '105.875', '106.065', '105.875', '106.050');
infoRow(0, 1077, '2020/03/13 17:00:00', '105.855', '106.065', '105.793', '106.050');
infoRow(1366, 1077, '2020/03/13 17:00:00', '105.855', '106.065', '105.793', '106.050');

// ----- pane overlay drawn on the chart's own scales -----
const paneDecor = {
  id: 'paneDecor',
  beforeDraw(chart) {
    const { ctx, chartArea: a } = chart;
    ctx.save();
    ctx.fillStyle = '#000';
    ctx.fillRect(a.left, a.top, a.right - a.left, a.bottom - a.top);
    ctx.restore();
  },
  afterDatasetsDraw(chart, args, opts) {
    const { ctx, chartArea: a, scales } = chart;
    ctx.save();
    ctx.font = `21px ${fontFamily}`;
    ctx.textAlign = 'center';
    ctx.textBaseline = 'middle';
    (opts.marks || []).forEach(m => {
      const px = scales.x.getPixelForValue(m.i);
      const py = scales.y.getPixelForValue(m.v) + (m.high ? -8 : 11);
      ctx.fillStyle = m.high ? '#d96a00' : '#00b400';
      ctx.fillText(m.v.toFixed(3), px, py);
    });
    if (opts.price) {
      const y = scales.y.getPixelForValue(opts.price);
      ctx.strokeStyle = '#e09a00';
      ctx.lineWidth = 2;
      ctx.beginPath();
      ctx.moveTo(a.left, y);
      ctx.lineTo(a.right - 3, y);
      ctx.stroke();
    }
    ctx.restore();
  },
  afterDraw(chart, args, opts) {
    const { ctx, chartArea: a, scales } = chart;
    ctx.save();
    ctx.strokeStyle = '#c4c4c4';
    ctx.lineWidth = 2;
    ctx.strokeRect(a.left, a.top, a.right - a.left, a.bottom - a.top);
    if (opts.price) {
      const y = scales.y.getPixelForValue(opts.price);
      ctx.fillStyle = '#fff';
      ctx.beginPath();
      ctx.roundRect(a.right + 1, y - 12, 97, 24, [0, 6, 6, 0]);
      ctx.fill();
      ctx.fillStyle = '#000';
      ctx.font = `23px ${fontFamily}`;
      ctx.textAlign = 'left';
      ctx.textBaseline = 'middle';
      ctx.fillText(opts.price.toFixed(3), a.right + 8, y + 1);
    }
    ctx.restore();
  }
};

// ----- dataset builders -----
const upLine = '#f22020', upFill = '#b81616', downLine = '#3c3cd2', downFill = '#2c2ca8', dojiLine = '#a98a10';
function candleColor(o, c, up, down) {
  return c > o ? up : c < o ? down : dojiLine;
}
function candles(open, high, low, close) {
  const line = open.map((o, i) => candleColor(o, close[i], upLine, downLine));
  const fill = open.map((o, i) => candleColor(o, close[i], upFill, downFill));
  return [
    { data: open.map((_, i) => ({ x: i, y: [low[i], high[i]] })), backgroundColor: line,
      grouped: false, barPercentage: 0.16, categoryPercentage: 1, order: 3 },
    { data: open.map((o, i) => ({ x: i, y: [o, close[i]] })), backgroundColor: fill, borderColor: line,
      borderWidth: 2, borderSkipped: false, minBarLength: 2,
      grouped: false, barPercentage: 0.8, categoryPercentage: 1, order: 2 }
  ];
}
function line(values, color) {
  return { type: 'line', data: values.map((y, i) => ({ x: i, y })), borderColor: color, borderWidth: 2,
           pointRadius: 0, tension: 0, order: 1 };
}
function dots(values, color) {
  return { type: 'line', data: values.map((y, i) => ({ x: i, y })), showLine: false, pointRadius: 6.5,
           pointBackgroundColor: color, pointBorderWidth: 0, order: 1 };
}

// box: plot frame l,t,r,b and canvas right/bottom edge
function pane(box, datasets, o) {
  const pad = 3;
  const c = document.createElement('canvas');
  const width = box.cr - box.l + pad, height = box.cb - box.t + pad;
  c.width = width;
  c.height = height;
  c.style.left = (box.l - pad) + 'px';
  c.style.top = (box.t - pad) + 'px';
  document.body.appendChild(c);
  // labels near the edges must not push the plot inwards
  const noPadding = s => { s.paddingLeft = s.paddingRight = s.paddingTop = s.paddingBottom = 0; };
  new Chart(c, {
    type: 'bar',
    data: { datasets },
    plugins: [paneDecor],
    options: {
      responsive: false,
      animation: false,
      devicePixelRatio: 1,
      layout: { padding: { left: pad, top: pad, right: 0, bottom: 0 } },
      plugins: {
        legend: { display: false },
        tooltip: { enabled: false },
        paneDecor: { price: o.price, marks: o.marks }
      },
      scales: {
        x: {
          type: 'linear', offset: false, min: o.xMin, max: o.xMin + 100,
          afterBuildTicks: s => { s.ticks = o.timeIdx.map(value => ({ value })); },
          afterFit: s => { s.height = box.cb - box.b; noPadding(s); },
          grid: {
            offset: false, lineWidth: 2, drawTicks: false,
            color: ctx => (o.dateIdx || []).includes(ctx.tick.value) ? '#1f8c00' : '#444'
          },
          border: { display: false },
          ticks: {
            display: !!o.showTime, autoSkip: false, maxRotation: 0, padding: 9, color: '#e8e8e8',
            font: { size: 20 },
            callback: v => o.timeLabels[o.timeIdx.indexOf(v)]
          }
        },
        y: {
          position: 'right', beginAtZero: false, min: o.yMin, max: o.yMax,
          afterBuildTicks: s => { s.ticks = o.ticks.map(value => ({ value })); },
          afterFit: s => { s.width = box.cr - box.r; noPadding(s); },
          grid: { lineWidth: 2, drawTicks: false, color: '#444' },
          border: { display: false },
          ticks: { padding: 8, labelOffset: 2, color: '#e8e8e8', font: { size: 23 }, callback: v => v.toFixed(3) }
        }
      }
    }
  });
}

// ----- 1 minute -----
pane({ l: 10, t: 194, r: 1260, b: 973, cr: 1366, cb: 1008 },
  candles(m1Open, m1High, m1Low, m1Close),
  { xMin: -0.15, yMin: 105.3627, yMax: 106.0928, ticks: m1Ticks, price: lastPrice, showTime: true,
    timeIdx: m1TimeIdx, timeLabels: m1TimeLabels,
    marks: [{ i: 26, v: 105.970, high: true }, { i: 34, v: 105.708 }, { i: 75, v: 106.065, high: true }] });

// ----- 10 minute with parabolic and macd -----
pane({ l: 1376, t: 194, r: 2626, b: 649, cr: 2732, cb: 652 },
  [dots(sarSell, '#2a6fd6'), dots(sarBuy, '#c8173a'), ...candles(m10Open, m10High, m10Low, m10Close)],
  { xMin: -0.44, yMin: 104.400, yMax: 106.178, ticks: m10Ticks, price: lastPrice,
    timeIdx: m10TimeIdx, timeLabels: m10TimeLabels,
    marks: [{ i: 23, v: 104.519 }, { i: 74, v: 106.065, high: true }] });
pane({ l: 1376, t: 649, r: 2626, b: 973, cr: 2732, cb: 1008 },
  [Object.assign(line(macdSignal, '#19e3e3'), { borderWidth: 2.5 }), Object.assign(line(macdLine, '#f00000'), { order: 2 }),
   { data: macdHist.map((y, i) => ({ x: i, y })), backgroundColor: '#8c8c8c', grouped: false,
     barPercentage: 0.84, categoryPercentage: 1, order: 3 }],
  { xMin: -0.44, yMin: -0.130, yMax: 0.231, ticks: macdTicks, showTime: true,
    timeIdx: m10TimeIdx, timeLabels: m10TimeLabels });

// ----- 30 minute with sma and rsi -----
pane({ l: 10, t: 1096, r: 1260, b: 1592, cr: 1366, cb: 1595 },
  [line(smaC, '#ff6a00'), line(smaB, '#00b400'), line(smaA, '#8f00ff'), ...candles(m30Open, m30High, m30Low, m30Close)],
  { xMin: -0.456, yMin: 102.883, yMax: 106.303, ticks: m30Ticks, price: lastPrice,
    timeIdx: m30TimeIdx, timeLabels: m30TimeLabels, dateIdx: m30DateIdx,
    marks: [{ i: 19, v: 103.090 }, { i: 49, v: 106.096, high: true }, { i: 62, v: 104.519 }, { i: 79, v: 106.065, high: true }] });
pane({ l: 10, t: 1592, r: 1260, b: 1875, cr: 1366, cb: 1910 },
  [line(rsiC, '#ff6a00'), Object.assign(line(rsiA, '#8f00ff'), { order: 2 })],
  { xMin: -0.456, yMin: -3.2, yMax: 103.6, ticks: rsiTicks, showTime: true,
    timeIdx: m30TimeIdx, timeLabels: m30TimeLabels, dateIdx: m30DateIdx });

// ----- 60 minute with bollinger bands -----
pane({ l: 1376, t: 1096, r: 2626, b: 1875, cr: 2732, cb: 1910 },
  [line(bbBase, '#0a3cf0'), line(bbAUp, '#0a7ae6'), line(bbALow, '#0a7ae6'), line(bbBUp, '#5ab0f0'), line(bbBLow, '#5ab0f0'),
   line(bbCUp, '#aab2ec'), line(bbCLow, '#aab2ec'), ...candles(h1Open, h1High, h1Low, h1Close)],
  { xMin: -0.44, yMin: 99.157, yMax: 107.642, ticks: h1Ticks, price: lastPrice, showTime: true,
    timeIdx: h1TimeIdx, timeLabels: h1TimeLabels, dateIdx: h1DateIdx,
    marks: [{ i: 13, v: 105.925, high: true }, { i: 44, v: 103.090 }, { i: 59, v: 106.096, high: true }] });

// ----- indicator captions -----
legend(1377, 196, [['パラボリック', '#bdbdbd'], ['買 105.417', '#c8173a'], ['売', '#2a6fd6']]);
legend(1377, 651, [['MACD', '#bdbdbd'], ['MACD[12-26] 0.1662', '#f00000'], ['平滑シグナル[9] 0.1461', '#00d8d8']]);
legend(11, 1097, [['単純移動平均', '#bdbdbd'], ['期間A[5] 105.775', '#8f00ff'], ['期間B[13] 105.468', '#00b400'], ['期間C[21] 105.237', '#ff6a00']]);
legend(11, 1594, [['RSI', '#bdbdbd'], ['期間A[9] 84.956', '#8f00ff'], ['期間C[42] 65.606', '#ff6a00']]);
legend(1377, 1097, [['ボリンジャーバンド', '#bdbdbd'], ['基準線[21] 105.160', '#0a32e0'], ['σA[2] 106.115-104.206', '#0a78e6'], ['σB[3] 106.592-103.729', '#5aa5e6'], ['σC[4] 107.069-103.252', '#a5b0ea']], true);

// ----- bottom tab bar -----
const tabGrey = '#6e6e6e';
[[565, 'マーケットA'], [766, 'マーケットB'], [965, 'マーケットC']].forEach(t => {
  centred('¥€$£', t[0], 1948, 41, tabGrey);
  centred(t[1], t[0], 1990, 18, tabGrey);
});
svg(1118, 1924, 96, 52, '<path d="M2 0 V50 H94" fill="none" stroke="#00a845" stroke-width="4"/><path d="M6 36 L34 8 L58 30 L84 4 M6 44 L34 22 L58 42 L84 32" fill="none" stroke="#00a845" stroke-width="2.5"/>');
centred('チャート', 1165, 1990, 18, '#00a845');
svg(1322, 1926, 88, 52, '<circle cx="58" cy="18" r="14" fill="none" stroke="#777" stroke-width="7"/><path d="M66 30 L84 52" stroke="#777" stroke-width="8"/><g fill="#777"><rect x="0" y="36" width="11" height="7"/><rect x="14" y="36" width="11" height="7"/><rect x="28" y="36" width="11" height="7"/><rect x="0" y="45" width="11" height="7"/><rect x="14" y="45" width="11" height="7"/><rect x="28" y="45" width="11" height="7"/></g>');
centred('照会', 1365, 1990, 18, tabGrey);
svg(1517, 1926, 42, 44, '<g fill="#777"><rect x="0" y="0" width="8" height="8"/><rect x="0" y="13" width="8" height="6"/><rect x="12" y="13" width="8" height="6"/><rect x="0" y="24" width="8" height="6"/><rect x="12" y="24" width="8" height="6"/><rect x="24" y="24" width="8" height="6"/><rect x="0" y="36" width="8" height="6"/><rect x="12" y="36" width="8" height="6"/><rect x="24" y="36" width="8" height="6"/><rect x="36" y="36" width="6" height="6"/></g>');
centred('¥', 1590, 1948, 50, tabGrey);
centred('証拠金状況', 1565, 1990, 18, tabGrey);
svg(1728, 1924, 76, 52, '<circle cx="22" cy="26" r="13" fill="none" stroke="#777" stroke-width="8"/><circle cx="22" cy="26" r="20" fill="none" stroke="#777" stroke-width="6" stroke-dasharray="7 7"/><path d="M60 10 V44" stroke="#777" stroke-width="9"/><path d="M52 2 V10 Q60 16 68 10 V2" fill="none" stroke="#777" stroke-width="5"/>');
centred('設定', 1766, 1990, 18, tabGrey);
svg(1947, 1924, 36, 24, '<path d="M3 10 Q18 -6 33 10 M9 18 Q18 8 27 18" fill="none" stroke="#777" stroke-width="3"/>');
centred('NEWS', 1965, 1964, 21, tabGrey);
centred('情報', 1965, 1990, 18, tabGrey);
centred('etc..', 2165, 1950, 44, tabGrey);
centred('その他', 2165, 1990, 18, tabGrey);
</script>
</body>
</html>
